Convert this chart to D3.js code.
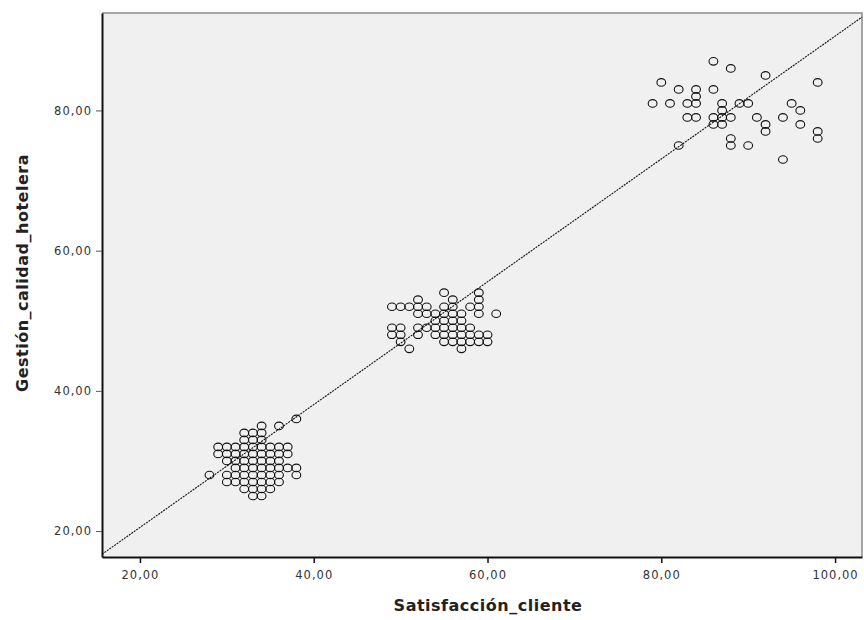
<!DOCTYPE html>
<html lang="es">
<head>
<meta charset="UTF-8">
<title>Dispersión</title>
<style>
  body { margin: 0; background: #fff; }
  svg { display: block; }
  .tick text { font-family: "DejaVu Sans", sans-serif; font-size: 11.5px; fill: #333; letter-spacing: 1px; }
  .titulo { font-family: "DejaVu Sans", sans-serif; font-size: 16px; font-weight: bold; fill: #222; letter-spacing: 0.5px; }
</style>
<script src="https://d3js.org/d3.v7.min.js"></script>
</head>
<body>
<svg width="864" height="620"></svg>
<script>
// Satisfacción_cliente (x), Gestión_calidad_hotelera (y)
const grupoBajo = [
  [34,35],[36,35],[38,36],
  [32,34],[33,34],[34,34],
  [32,33],[33,33],[34,33],
  [29,32],[30,32],[31,32],[32,32],[33,32],[34,32],[35,32],[36,32],[37,32],
  [29,31],[30,31],[31,31],[32,31],[33,31],[34,31],[35,31],[36,31],[37,31],
  [30,30],[31,30],[32,30],[33,30],[34,30],[35,30],[36,30],
  [31,29],[32,29],[33,29],[34,29],[35,29],[36,29],[37,29],[38,29],
  [28,28],[30,28],[31,28],[32,28],[33,28],[34,28],[35,28],[36,28],[38,28],
  [30,27],[31,27],[32,27],[33,27],[34,27],[35,27],[36,27],
  [32,26],[33,26],[34,26],[35,26],
  [33,25],[34,25]
];
const grupoMedio = [
  [55,54],[59,54],
  [52,53],[56,53],[59,53],
  [49,52],[50,52],[51,52],[52,52],[53,52],[55,52],[56,52],[58,52],[59,52],
  [52,51],[53,51],[54,51],[55,51],[56,51],[57,51],[59,51],[61,51],
  [54,50],[55,50],[56,50],[57,50],
  [49,49],[50,49],[52,49],[53,49],[54,49],[55,49],[56,49],[57,49],[58,49],
  [49,48],[50,48],[52,48],[54,48],[55,48],[56,48],[57,48],[58,48],[59,48],[60,48],
  [50,47],[55,47],[56,47],[57,47],[58,47],[59,47],[60,47],
  [51,46],[57,46]
];
const grupoAlto = [
  [86,87],[88,86],[92,85],[98,84],[80,84],
  [82,83],[84,83],[86,83],[84,82],
  [79,81],[81,81],[83,81],[84,81],[87,81],[89,81],[90,81],[95,81],
  [87,80],[96,80],
  [83,79],[84,79],[86,79],[87,79],[88,79],[91,79],[94,79],
  [86,78],[87,78],[92,78],[96,78],
  [92,77],[98,77],[98,76],[88,76],
  [82,75],[88,75],[90,75],
  [94,73]
];
const xTicks = [20, 40, 60, 80, 100];
const yTicks = [20, 40, 60, 80];
const ajuste = { intercepto: 3.0, pendiente: 0.876 };

const svg = d3.select('svg');
const plotLeft = 102, plotRight = 862, plotTop = 13, plotBottom = 557;

const x = d3.scaleLinear().domain([15.63, 103.1]).range([plotLeft, plotRight]);
const y = d3.scaleLinear().domain([16.3, 93.9]).range([plotBottom, plotTop]);

const fmt = d => d.toFixed(2).replace('.', ',');

// fondo del área
svg.append('rect')
  .attr('x', plotLeft).attr('y', plotTop)
  .attr('width', plotRight - plotLeft).attr('height', plotBottom - plotTop)
  .attr('fill', '#f0f0f0');

// borde superior y derecho
svg.append('path')
  .attr('d', `M${plotLeft},${plotTop} H${plotRight} V${plotBottom}`)
  .attr('fill', 'none').attr('stroke', '#8a8a8a').attr('stroke-width', 1.5);

// línea de ajuste
const x0 = x.domain()[0], x1 = x.domain()[1];
svg.append('line')
  .attr('x1', x(x0)).attr('y1', y(ajuste.intercepto + ajuste.pendiente * x0))
  .attr('x2', x(x1)).attr('y2', y(ajuste.intercepto + ajuste.pendiente * x1))
  .attr('stroke', '#111').attr('stroke-width', 1.1)
  .attr('stroke-dasharray', '2,1');

// puntos
const puntos = grupoBajo.concat(grupoMedio, grupoAlto);
svg.append('g').selectAll('ellipse')
  .data(puntos)
  .join('ellipse')
  .attr('cx', d => x(d[0]))
  .attr('cy', d => y(d[1]))
  .attr('rx', 4.4).attr('ry', 3.8)
  .attr('fill', 'none')
  .attr('stroke', '#111')
  .attr('stroke-width', 1.1);

// ejes
const ejeX = svg.append('g')
  .attr('transform', `translate(0,${plotBottom})`)
  .call(d3.axisBottom(x).tickValues(xTicks).tickFormat(fmt).tickSize(6).tickSizeOuter(0).tickPadding(8));
ejeX.select('.domain').attr('stroke', '#111').attr('stroke-width', 2);

const ejeY = svg.append('g')
  .attr('transform', `translate(${plotLeft},0)`)
  .call(d3.axisLeft(y).tickValues(yTicks).tickFormat(fmt).tickSize(6).tickSizeOuter(0).tickPadding(4));
ejeY.select('.domain').attr('stroke', '#111').attr('stroke-width', 2);

ejeX.selectAll('.tick line').attr('stroke', '#111').attr('stroke-width', 1.5);
ejeY.selectAll('.tick line').attr('stroke', '#555');

// títulos
svg.append('text')
  .attr('class', 'titulo')
  .attr('x', 488).attr('y', 611)
  .attr('text-anchor', 'middle')
  .text('Satisfacción_cliente');

svg.append('text')
  .attr('class', 'titulo')
  .attr('transform', 'translate(28,273) rotate(-90)')
  .attr('text-anchor', 'middle')
  .text('Gestión_calidad_hotelera');
</script>
</body>
</html>
